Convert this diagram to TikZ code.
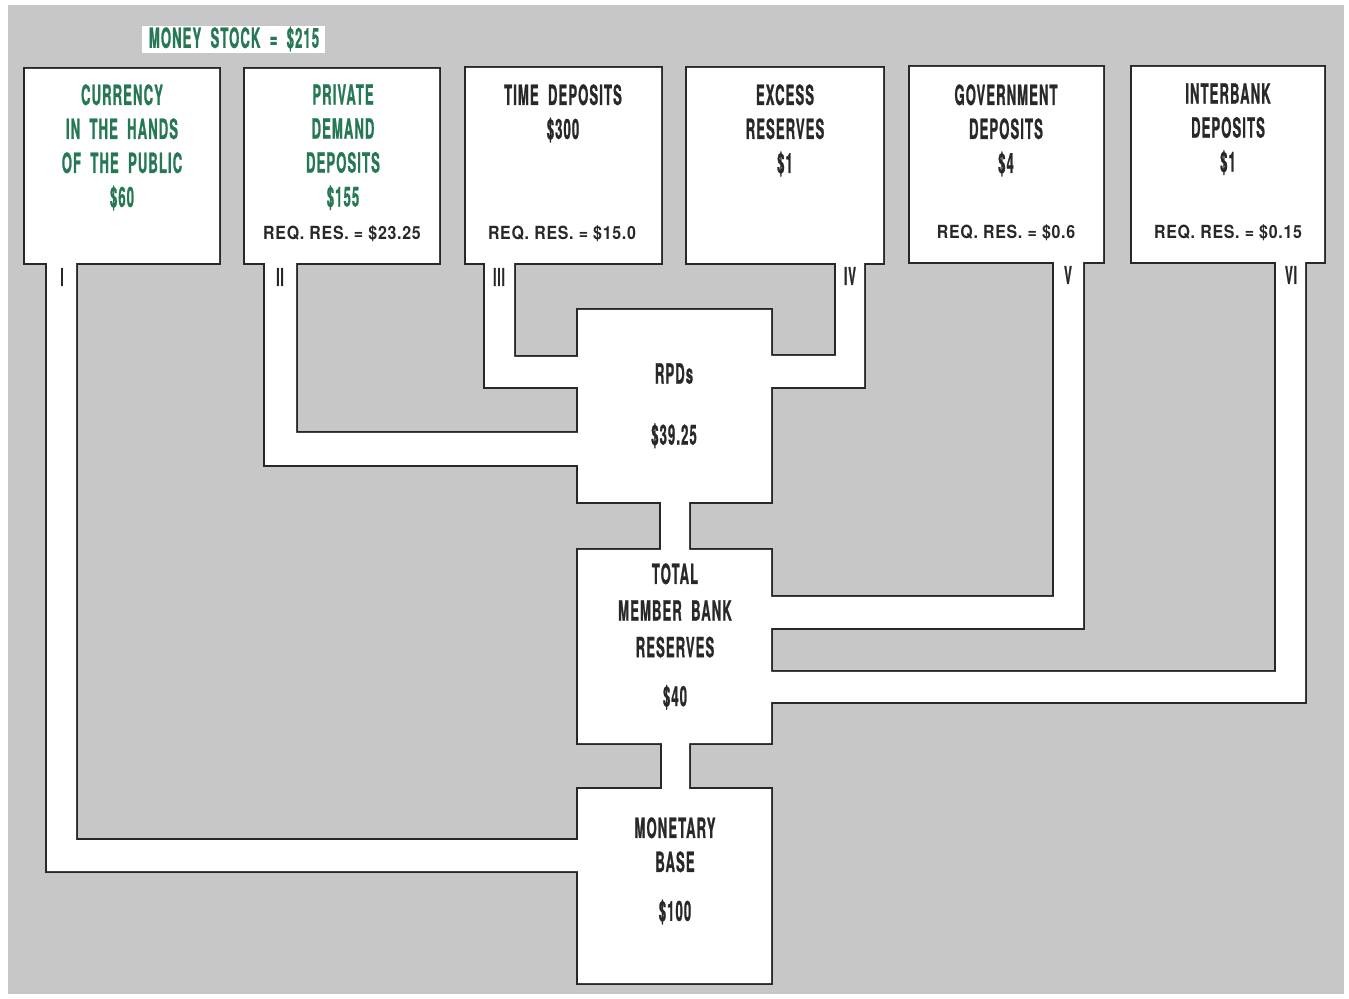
\documentclass[tikz,border=0pt]{standalone}
\usepackage{fontspec}
\usepackage{xcolor}
\usepackage{tikz}
\usetikzlibrary{positioning}
\newfontfamily\condfont[FakeStretch=0.47, FakeBold=0.8, LetterSpace=4]{TeX Gyre Heros}
\newfontfamily\reqfont[FakeStretch=0.88, LetterSpace=4]{TeX Gyre Heros}
\definecolor{paper}{RGB}{199,199,199}
\definecolor{ink}{RGB}{40,40,40}
\definecolor{moneygreen}{RGB}{38,120,84}

\begin{document}
\begin{tikzpicture}[x=0.02cm, y=-0.02cm]
    \tikzstyle{label} = [font=\condfont\bfseries\fontsize{15.8}{19.35}\selectfont, text=ink, align=center, anchor=north, inner sep=0pt]
    \tikzstyle{moneylabel} = [label, text=moneygreen]
    \tikzstyle{reqres} = [font=\reqfont\bfseries\fontsize{10.3}{12}\selectfont, text=ink, inner sep=0pt]
    \tikzstyle{channel} = [font=\condfont\bfseries\fontsize{14}{14}\selectfont, text=ink, inner sep=0pt]

    \useasboundingbox (0,0) rectangle (1349,999);
    \fill [paper] (8,5) rectangle (1344,994);

    % boxes and channels as one white shape, outlined
    \path [preaction={draw=ink, line width=2.3pt}, fill=white]
        (25,69) rectangle (219,263)
        (245,69) rectangle (439,263)
        (466,68) rectangle (661,263)
        (687,68) rectangle (883,263)
        (910,67) rectangle (1103,262)
        (1132,67) rectangle (1324,262)
        (578,310) rectangle (771,502)
        (578,550) rectangle (771,743)
        (578,789) rectangle (771,983)
        % I
        (47,250) rectangle (76,871)
        (47,840) rectangle (590,871)
        % II
        (265,250) rectangle (296,465)
        (265,433) rectangle (590,465)
        % III
        (485,250) rectangle (514,387)
        (485,357) rectangle (590,387)
        % IV
        (836,250) rectangle (864,387)
        (760,356) rectangle (864,387)
        % V
        (1054,250) rectangle (1083,628)
        (760,597) rectangle (1083,628)
        % VI
        (1276,250) rectangle (1305,702)
        (760,672) rectangle (1305,702)
        % RPDs -> total -> base
        (661,490) rectangle (689,560)
        (662,730) rectangle (689,800);

    \fill [white] (142,26) rectangle (325,53);
    \node [moneylabel, anchor=center] (stock) at (234,39) {MONEY\, STOCK\, =\, \$215};

    \node [moneylabel] (currency) at (122,84) {CURRENCY\\IN\, THE\, HANDS\\OF\, THE\, PUBLIC\\\$60};
    \node [moneylabel] (demand) at (343,84) {PRIVATE\\DEMAND\\DEPOSITS\\\$155};
    \node [label] (time) at (563,84) {TIME\, DEPOSITS\\\$300};
    \node [label] (excess) at (785,84) {EXCESS\\RESERVES\\\$1};
    \node [label] (govt) at (1006,84) {GOVERNMENT\\DEPOSITS\\\$4};
    \node [label] (interbank) at (1228,83) {INTERBANK\\DEPOSITS\\\$1};

    \node [reqres] (reqdemand) at (342,234) {REQ.\ RES.\ =\ \$23.25};
    \node [reqres] (reqtime) at (562,234) {REQ.\ RES.\ =\ \$15.0};
    \node [reqres] (reqgovt) at (1006,233) {REQ.\ RES.\ =\ \$0.6};
    \node [reqres] (reqinterbank) at (1228,233) {REQ.\ RES.\ =\ \$0.15};

    \node [label] (rpds) at (674,363) {RPDs\\[15.4pt]\$39.25};
    \node [label] (total) at (675,563) {TOTAL\\[1.5pt]MEMBER\, BANK\\[1.5pt]RESERVES\\[8.5pt]\$40};
    \node [label] (base) at (675,817) {MONETARY\\BASE\\[8.5pt]\$100};

    \node [channel] (chI) at (62,277) {I};
    \node [channel] (chII) at (280,277) {II};
    \node [channel] (chIII) at (499,277) {III};
    \node [channel] (chIV) at (850,276) {IV};
    \node [channel] (chV) at (1068,275) {V};
    \node [channel] (chVI) at (1291,275) {VI};
\end{tikzpicture}
\end{document}
